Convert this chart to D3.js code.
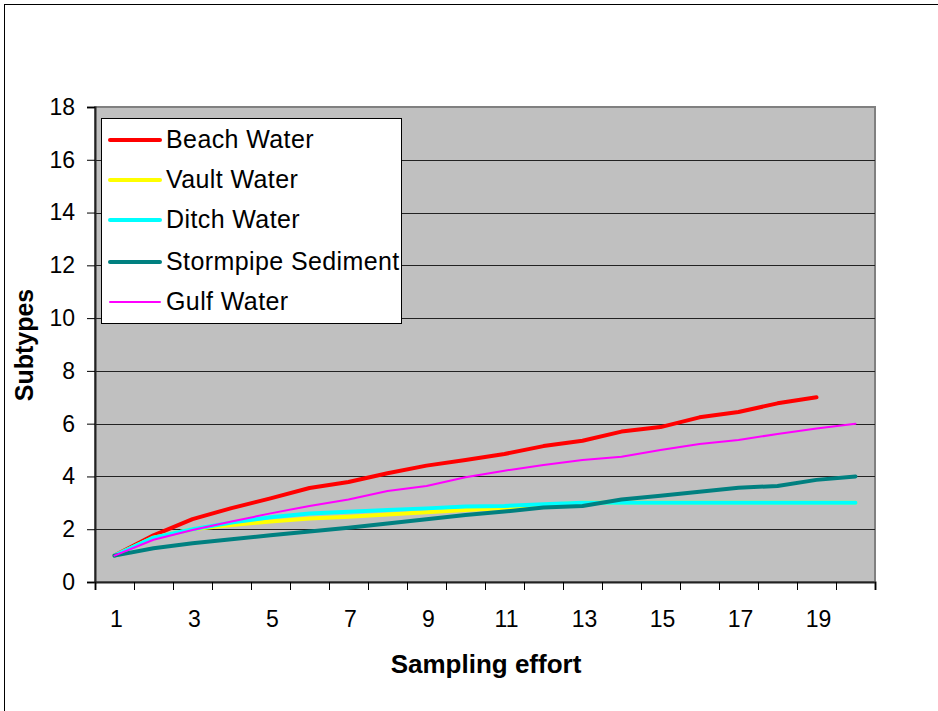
<!DOCTYPE html>
<html>
<head>
<meta charset="utf-8">
<script src="https://cdn.jsdelivr.net/npm/d3@7"></script>
<style>
  body { margin: 0; background: #fff; }
  text { font-family: "Liberation Sans", Arial, sans-serif; }
</style>
</head>
<body>
<script>
// sampling effort 1..20
const effort = d3.range(1, 21)
const xLabels = [1, 3, 5, 7, 9, 11, 13, 15, 17, 19]
const yTicks = [0, 2, 4, 6, 8, 10, 12, 14, 16, 18]

const seriesNames = ["Beach Water", "Vault Water", "Ditch Water", "Stormpipe Sediment", "Gulf Water"]
const seriesColors = ["#ff0000", "#ffff00", "#00ffff", "#008080", "#ff00ff"]

const beachWater = [1, 1.77, 2.38, 2.8, 3.17, 3.56, 3.79, 4.12, 4.41, 4.62, 4.85, 5.15, 5.35, 5.7, 5.87, 6.24, 6.44, 6.77, 7]
const vaultWater = [1, 1.68, 2.0, 2.16, 2.29, 2.41, 2.47, 2.56, 2.64, 2.73, 2.8, 2.92, 3, 3, 3, 3, 3, 3, 3, 3]
const ditchWater = [1, 1.68, 2.0, 2.25, 2.45, 2.6, 2.66, 2.73, 2.79, 2.86, 2.88, 2.95, 3, 3, 3, 3, 3, 3, 3, 3]
const stormpipe = [1, 1.28, 1.47, 1.62, 1.77, 1.91, 2.06, 2.22, 2.38, 2.54, 2.67, 2.82, 2.88, 3.13, 3.27, 3.42, 3.57, 3.64, 3.87, 4]
const gulfWater = [1, 1.6, 1.97, 2.29, 2.6, 2.88, 3.13, 3.45, 3.64, 3.97, 4.22, 4.43, 4.62, 4.75, 5, 5.23, 5.38, 5.61, 5.82, 6]

const allSeries = [beachWater, vaultWater, ditchWater, stormpipe, gulfWater]

let svg = d3.select("body").append("svg")
  .attr("width", 938).attr("height", 711)

// outer chart frame
svg.append("rect")
  .attr("x", 4.5).attr("y", 4.5)
  .attr("width", 1000).attr("height", 1000)
  .attr("fill", "none").attr("stroke", "#000")

const plotLeft = 95, plotRight = 875, plotTop = 107, plotBottom = 582

let x = d3.scaleLinear().domain([0.5, 20.5]).range([plotLeft, plotRight])
let y = d3.scaleLinear().domain([0, 18]).range([plotBottom, plotTop])

// plot area
svg.append("rect")
  .attr("x", plotLeft).attr("y", plotTop)
  .attr("width", plotRight - plotLeft).attr("height", plotBottom - plotTop)
  .attr("fill", "#c0c0c0")
  .attr("stroke", "#808080").attr("stroke-width", 2)

// gridlines
svg.selectAll(".grid").data(yTicks.filter(d => d > 0 && d < 18)).enter()
  .append("line")
  .attr("x1", plotLeft).attr("x2", plotRight)
  .attr("y1", d => Math.round(y(d)) + 0.5).attr("y2", d => Math.round(y(d)) + 0.5)
  .attr("stroke", "#222").attr("stroke-width", 1)

// y axis
let yAxis = svg.append("g")
  .attr("transform", `translate(${plotLeft},0)`)
  .call(d3.axisLeft(y).tickValues(yTicks).tickSize(8).tickPadding(12))
yAxis.selectAll("text").style("font-size", "23px").attr("fill", "#000")
yAxis.select(".domain").attr("stroke", "#222").attr("stroke-width", 2)

// x axis ticks at category boundaries
let xAxis = svg.append("g")
  .attr("transform", `translate(0,${plotBottom})`)
  .call(d3.axisBottom(x).tickValues(d3.range(0.5, 21, 1)).tickSize(8).tickFormat(""))
xAxis.select(".domain").attr("stroke", "#222").attr("stroke-width", 2)

// x labels on odd categories
svg.selectAll(".x-label").data(xLabels).enter()
  .append("text")
  .attr("class", "x-label")
  .attr("x", d => x(d) + 2)
  .attr("y", 627)
  .attr("text-anchor", "middle")
  .style("font-size", "23px")
  .text(d => d)

// lines
let line = d3.line()
  .x((d, i) => x(effort[i]))
  .y(d => y(d))

svg.selectAll(".series").data(allSeries).enter()
  .append("path")
  .attr("d", d => line(d))
  .attr("fill", "none")
  .attr("stroke", (d, i) => seriesColors[i])
  .attr("stroke-width", (d, i) => i == 4 ? 2 : 4)
  .attr("stroke-linejoin", "round")
  .attr("stroke-linecap", "round")

// axis titles
svg.append("text")
  .attr("x", 486).attr("y", 673)
  .attr("text-anchor", "middle")
  .style("font-size", "26px").style("font-weight", "bold")
  .text("Sampling effort")

svg.append("text")
  .attr("transform", "translate(33,345) rotate(-90)")
  .attr("text-anchor", "middle")
  .style("font-size", "25px").style("font-weight", "bold")
  .text("Subtypes")

// legend
let legend = svg.append("g")
legend.append("rect")
  .attr("x", 101.5).attr("y", 118.5)
  .attr("width", 300).attr("height", 205)
  .attr("fill", "#fff").attr("stroke", "#000")

const legendY = [140, 180, 220, 262, 302]
legend.selectAll(".leg-line").data(seriesNames).enter()
  .append("line")
  .attr("x1", 110).attr("x2", 160)
  .attr("y1", (d, i) => legendY[i]).attr("y2", (d, i) => legendY[i])
  .attr("stroke", (d, i) => seriesColors[i])
  .attr("stroke-width", (d, i) => i == 4 ? 2 : 4)
  .attr("stroke-linecap", "round")

legend.selectAll(".leg-text").data(seriesNames).enter()
  .append("text")
  .attr("x", 166)
  .attr("y", (d, i) => legendY[i] + 8)
  .style("font-size", "25px")
  .style("letter-spacing", "0.4px")
  .text(d => d)
</script>
</body>
</html>
